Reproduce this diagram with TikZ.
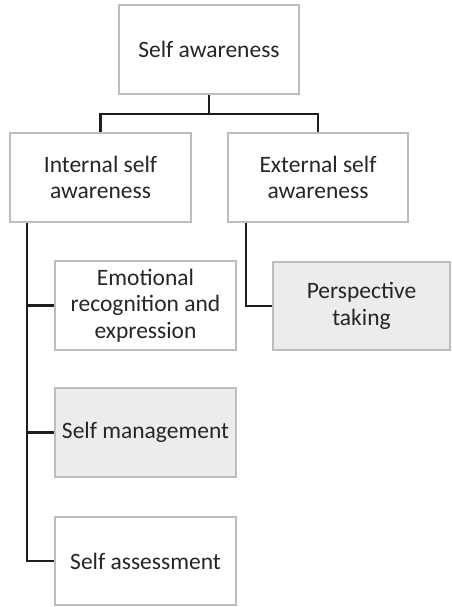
\documentclass[tikz,border=0pt]{standalone}
\usepackage{fontspec}
\setmainfont{Carlito}
\begin{document}
\begin{tikzpicture}[x=1pt,y=-1pt,
  box/.style={draw=boxline, line width=1.6pt, fill=white, align=center,
    inner sep=0pt, text=textgray,
    font=\fontsize{23.5}{26.5}\selectfont},
  shaded/.style={box, fill=boxfill},
  link/.style={draw=linkcol, line width=2.2pt}]
\definecolor{boxline}{HTML}{BDBDBD}
\definecolor{boxfill}{HTML}{ECECEC}
\definecolor{linkcol}{HTML}{1E1E1E}
\definecolor{textgray}{HTML}{262626}
\useasboundingbox (0,0) rectangle (451,607);
% top level
\node[box, minimum width=180pt, minimum height=89pt] (top) at (209,49.5) {Self awareness};
% second level
\node[box, minimum width=181pt, minimum height=89pt] (int) at (100.5,177.5) {Internal self\\awareness};
\node[box, minimum width=180pt, minimum height=89pt] (ext) at (318,177.5) {External self\\awareness};
% internal branches
\node[box, minimum width=181pt, minimum height=89pt] (emo) at (145.5,305.5) {Emotional\\recognition and\\expression};
\node[shaded, minimum width=181pt, minimum height=89pt] (man) at (145.5,432.5) {Self management};
\node[box, minimum width=181pt, minimum height=88pt] (ass) at (145.5,561) {Self assessment};
% external branch
\node[shaded, minimum width=177pt, minimum height=88pt] (per) at (361.5,306) {Perspective\\taking};
% connectors
\draw[link] (top.south) -- ++(0,19) -| (int.north);
\draw[link] (top.south) -- ++(0,19) -| (ext.north);
\draw[link] ([xshift=18pt]int.south west) |- (emo.west);
\draw[link] ([xshift=18pt]int.south west) |- (man.west);
\draw[link] ([xshift=18pt]int.south west) |- (ass.west);
\draw[link] ([xshift=19pt]ext.south west) |- (per.west);
\end{tikzpicture}
\end{document}
